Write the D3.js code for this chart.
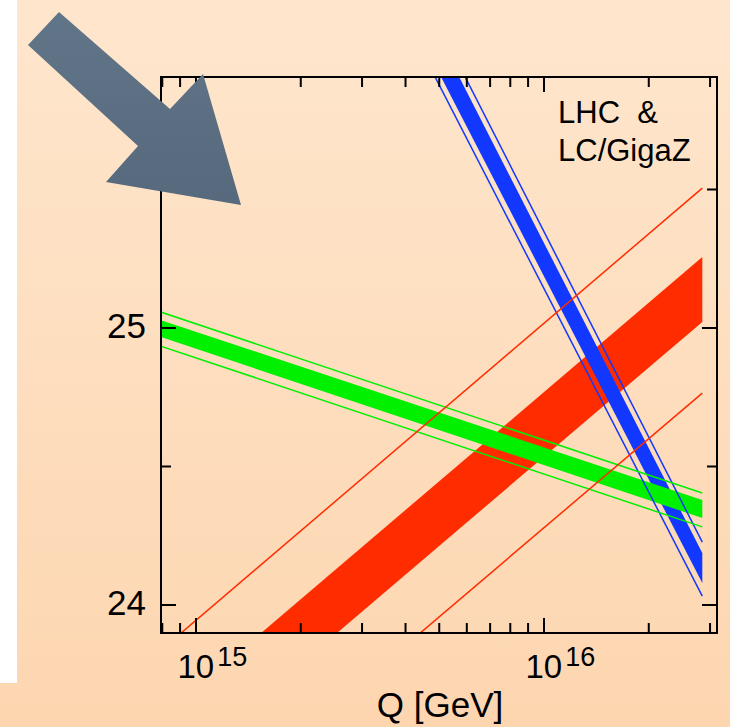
<!DOCTYPE html>
<html>
<head>
<meta charset="utf-8">
<script src="https://cdn.jsdelivr.net/npm/d3@7"></script>
<style>
  html, body { margin: 0; padding: 0; background: #ffffff; }
  svg { display: block; }
</style>
</head>
<body>
<script>
const W = 730, H = 727;

// Scale Q [GeV] at which each band edge is given (start, end)
const qLimits = [7.9e14, 2.85e16];

// Inverse gauge couplings: inner band edges and outer error lines at qLimits
const a1Low = [27.870, 24.079], a1High = [28.018, 24.188];
const a1ErrLow = [27.833, 24.032], a1ErrHigh = [28.064, 24.227];
const a2Low = [24.968, 24.314], a2High = [25.029, 24.379];
const a2ErrLow = [24.935, 24.282], a2ErrHigh = [25.058, 24.404];
const a3Low = [23.356, 25.022], a3High = [23.589, 25.256];
const a3ErrLow = [23.101, 24.765], a3ErrHigh = [23.835, 25.505];

// Ticks
const xMajor = [1e15, 1e16];
const xMajorExp = ["15", "16"];
const xMinor = [8e14, 9e14, 2e15, 3e15, 4e15, 5e15, 6e15, 7e15, 8e15, 9e15, 2e16, 3e16];
const yMajor = [24, 25];
const yMinor = [24.5, 25.5];
const labelLines = ["LHC  &", "LC/GigaZ"];

const colors = { a1: "#1238ff", a2: "#00f000", a3: "#ff2c00" };

const svg = d3.select("body").append("svg")
  .attr("width", W).attr("height", H);

const defs = svg.append("defs");
const bg = defs.append("linearGradient").attr("id", "bg")
  .attr("x1", 0).attr("y1", 0).attr("x2", 0).attr("y2", 1);
bg.append("stop").attr("offset", "0%").attr("stop-color", "#fee6cd");
bg.append("stop").attr("offset", "100%").attr("stop-color", "#fdd6b0");

const ag = defs.append("linearGradient").attr("id", "arrowFill")
  .attr("x1", 0).attr("y1", 0).attr("x2", 0).attr("y2", 1);
ag.append("stop").attr("offset", "0%").attr("stop-color", "#617589");
ag.append("stop").attr("offset", "100%").attr("stop-color", "#57697c");

// Background panel
svg.append("rect").attr("width", W).attr("height", H).attr("fill", "url(#bg)");
svg.append("rect").attr("x", 0).attr("y", 0).attr("width", 17).attr("height", 683)
  .attr("fill", "#ffffff");

// Plot frame
const L = 161, R = 717, T = 77, B = 633;
const x = d3.scaleLog()
  .domain([Math.pow(10, 14.8994), Math.pow(10, 16.4971)])
  .range([L, R]);
const y = d3.scaleLinear()
  .domain([23.8989, 25.9061])
  .range([B, T]);

defs.append("clipPath").attr("id", "plotClip")
  .append("rect").attr("x", L).attr("y", T).attr("width", R - L).attr("height", B - T);

const plot = svg.append("g").attr("clip-path", "url(#plotClip)");

const idx = [0, 1];
const area = (lo, hi) => d3.area()
  .x(i => x(qLimits[i]))
  .y0(i => y(lo[i]))
  .y1(i => y(hi[i]))(idx);
const line = vals => d3.line()
  .x(i => x(qLimits[i]))
  .y(i => y(vals[i]))(idx);

// Inner bands
plot.append("path").attr("d", area(a3Low, a3High)).attr("fill", colors.a3);
plot.append("path").attr("d", area(a1Low, a1High)).attr("fill", colors.a1);
plot.append("path").attr("d", area(a2Low, a2High)).attr("fill", colors.a2);

// Outer error lines
[[a1ErrLow, colors.a1], [a1ErrHigh, colors.a1],
 [a2ErrLow, colors.a2], [a2ErrHigh, colors.a2],
 [a3ErrLow, colors.a3], [a3ErrHigh, colors.a3]].forEach(([v, c]) => {
  plot.append("path").attr("d", line(v))
    .attr("fill", "none").attr("stroke", c).attr("stroke-width", 1.5);
});

// Axes: ticks pointing inward on all four sides
const axisG = svg.append("g").attr("stroke", "#000").attr("stroke-width", 2);
const majLen = 15, minLen = 10;
xMajor.concat(xMinor).forEach(q => {
  const len = xMajor.includes(q) ? majLen : minLen;
  const px = x(q);
  axisG.append("line").attr("x1", px).attr("x2", px).attr("y1", B).attr("y2", B - len);
  axisG.append("line").attr("x1", px).attr("x2", px).attr("y1", T).attr("y2", T + len);
});
yMajor.concat(yMinor).forEach(v => {
  const len = yMajor.includes(v) ? majLen : minLen;
  const py = y(v);
  axisG.append("line").attr("x1", L).attr("x2", L + len).attr("y1", py).attr("y2", py);
  axisG.append("line").attr("x1", R).attr("x2", R - len).attr("y1", py).attr("y2", py);
});
svg.append("rect").attr("x", L).attr("y", T).attr("width", R - L).attr("height", B - T)
  .attr("fill", "none").attr("stroke", "#000").attr("stroke-width", 2);

const font = "'Liberation Sans', Arial, Helvetica, sans-serif";

// Y tick labels
yMajor.forEach(v => {
  svg.append("text").attr("x", 146).attr("y", y(v) + 10)
    .attr("text-anchor", "end").attr("font-family", font).attr("font-size", 35)
    .attr("fill", "#000").text(d3.format("d")(v));
});

// X tick labels: 10 with exponent
xMajor.forEach((q, i) => {
  const t = svg.append("text").attr("x", x(q) - 18.5).attr("y", 678)
    .attr("font-family", font).attr("font-size", 33).attr("fill", "#000");
  t.append("tspan").text("10");
  t.append("tspan").attr("dx", 3).attr("dy", -12).attr("font-size", 27).text(xMajorExp[i]);
});

// Axis title
svg.append("text").attr("x", 440).attr("y", 717).attr("text-anchor", "middle")
  .attr("font-family", font).attr("font-size", 35).attr("fill", "#000")
  .text("Q [GeV]");

// Scenario label
labelLines.forEach((s, i) => {
  svg.append("text").attr("x", 558).attr("y", 123 + i * 38)
    .attr("font-family", font).attr("font-size", 31).attr("fill", "#000")
    .attr("xml:space", "preserve").style("white-space", "pre")
    .text(s);
});

// Pointer arrow
const arrowPts = [[28, 45], [59, 12], [170, 109], [203, 74], [241, 205], [106, 182], [138, 146]];
svg.append("path")
  .attr("d", d3.line()(arrowPts) + "Z")
  .attr("fill", "url(#arrowFill)");
</script>
</body>
</html>
